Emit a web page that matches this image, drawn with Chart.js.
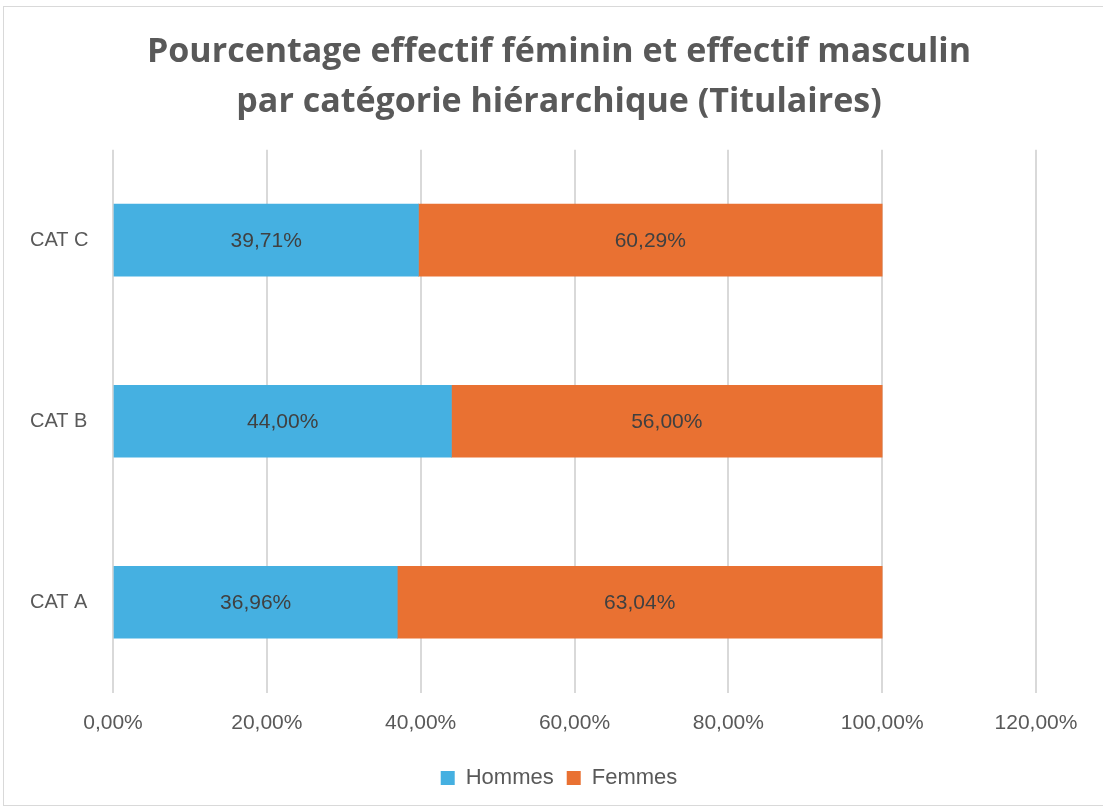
<!DOCTYPE html>
<html>
<head>
<meta charset="utf-8">
<script src="https://cdn.jsdelivr.net/npm/chart.js@4"></script>
<style>
  body { margin: 0; background: #fff; }
  #frame { position: absolute; left: 3px; top: 6px; width: 1120px; height: 798px; border: 1px solid #d9d9d9; }
  #wrap { position: absolute; left: 0; top: 0; width: 1103px; height: 812px; }
</style>
</head>
<body>
<div id="frame"></div>
<div id="wrap"><canvas id="chart"></canvas></div>
<script>
const categories = ["CAT A", "CAT B", "CAT C"];
const hommes = [36.96, 44.00, 39.71];
const femmes = [63.04, 56.00, 60.29];
const x_ticks_max = 120;
const x_ticks_step = 20;

const label_font = "'Liberation Sans', Arial, sans-serif";
const fmt = v => v.toFixed(2).replace(".", ",") + "%";

// writes the value in the middle of each bar segment
const bar_labels = {
  id: "barLabels",
  afterDatasetsDraw(chart) {
    const ctx = chart.ctx;
    ctx.save();
    ctx.font = "21px " + label_font;
    ctx.fillStyle = "#404040";
    ctx.textAlign = "center";
    ctx.textBaseline = "middle";
    chart.data.datasets.forEach((ds, i) => {
      chart.getDatasetMeta(i).data.forEach((bar, j) => {
        const p = bar.getCenterPoint();
        ctx.fillText(fmt(ds.data[j]), p.x, p.y + 1);
      });
    });
    ctx.restore();
  }
};

new Chart(document.getElementById("chart"), {
  type: "bar",
  data: {
    labels: categories,
    datasets: [{
      label: "Hommes",
      data: hommes,
      backgroundColor: "#45b0e1",
      barThickness: 72
    },
    {
      label: "Femmes",
      data: femmes,
      backgroundColor: "#e97132",
      barThickness: 72
    }]
  },
  options: {
    indexAxis: "y",
    responsive: true,
    maintainAspectRatio: false,
    animation: false,
    layout: {
      // left padding pushes title/legend centre to the right like the original
      padding: { top: 0, right: 67, bottom: 13, left: 82 }
    },
    plugins: {
      title: {
        display: true,
        text: ["Pourcentage effectif féminin et effectif masculin", "par catégorie hiérarchique (Titulaires)"],
        color: "#595959",
        font: { family: "'Open Sans'", size: 34, weight: "bold", lineHeight: 1.48 },
        padding: { top: 27, bottom: 22 }
      },
      legend: {
        position: "bottom",
        labels: {
          color: "#595959",
          font: { family: label_font, size: 22 },
          boxWidth: 14,
          boxHeight: 14,
          padding: 13
        }
      },
      tooltip: { enabled: false }
    },
    scales: {
      x: {
        stacked: true,
        min: 0,
        max: x_ticks_max,
        ticks: {
          stepSize: x_ticks_step,
          color: "#595959",
          font: { family: label_font, size: 21 },
          padding: 18,
          callback: v => fmt(v)
        },
        grid: { color: "#d9d9d9", lineWidth: 2, drawTicks: false },
        border: { display: false }
      },
      y: {
        stacked: true,
        reverse: true,
        afterFit: scale => { scale.width = 31; },
        ticks: {
          color: "#595959",
          font: { family: label_font, size: 20 },
          // mirrored labels are not clipped, so they can sit in the padding
          mirror: true,
          padding: -83
        },
        grid: { display: false, drawTicks: false },
        border: { display: false }
      }
    }
  },
  plugins: [bar_labels]
});
</script>
</body>
</html>
